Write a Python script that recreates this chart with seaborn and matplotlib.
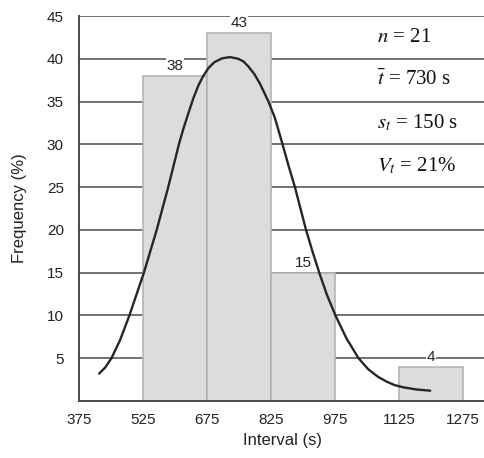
import numpy as np
import pandas as pd
import matplotlib
matplotlib.use("Agg")
import matplotlib.pyplot as plt
import seaborn as sns

# histogram classes (s) and frequencies (%)
bin_edges = [525, 675, 825, 975, 1125, 1275]
bin_centers = [600, 750, 900, 1200]
freq = [38, 43, 15, 4]

# fitted curve
curve_x = [422, 436, 451, 471, 493, 510, 527, 542, 557, 571, 584, 597, 609,
           620, 631, 643, 654, 665, 678, 692, 710, 729, 748, 760, 772, 786,
           799, 819, 834, 852, 866, 881, 894, 907, 922, 938, 956, 976, 1002,
           1030, 1053, 1075, 1096, 1115, 1135, 1165, 1198]
curve_y = [3.2, 3.9, 5.0, 7.1, 10.0, 12.5, 15.0, 17.5, 20.0, 22.6, 25.0,
           27.6, 30.0, 31.9, 33.6, 35.4, 36.8, 37.9, 38.9, 39.6, 40.05, 40.2,
           40.0, 39.7, 39.1, 38.2, 37.1, 35.0, 33.1, 30.0, 27.5, 25.0, 22.5,
           20.0, 17.5, 15.0, 12.4, 10.0, 7.3, 5.0, 3.7, 2.85, 2.26, 1.85,
           1.6, 1.35, 1.2]

x_ticks = [375, 525, 675, 825, 975, 1125, 1275]
y_ticks = [5, 10, 15, 20, 25, 30, 35, 40, 45]

stats = [r"$n$ = 21", r"$\bar{t}$ = 730 s", r"$s_t$ = 150 s", r"$V_t$ = 21%"]

sns.set_theme(style="white")
plt.rcParams["font.family"] = ["Liberation Sans", "DejaVu Sans"]
plt.rcParams["mathtext.fontset"] = "stix"

fig = plt.figure(figsize=(4.85, 4.58), dpi=100)
ax = fig.add_axes([0.163, 0.1245, 0.837, 0.8405])

# horizontal grid lines sit behind the bars
for yv in y_ticks:
    ax.axhline(yv, color="#4a4a4a", linewidth=1.1, zorder=0.5)

df = pd.DataFrame({"interval": bin_centers, "freq": freq})
sns.histplot(data=df, x="interval", weights="freq", bins=bin_edges,
             color="#dcdcdc", edgecolor="#b4b4b4", linewidth=1.2,
             alpha=1, ax=ax)
for p in ax.patches:
    p.set_zorder(2)

curve = pd.DataFrame({"x": curve_x, "y": curve_y})
sns.lineplot(data=curve, x="x", y="y", color="#262626", linewidth=1.7,
             ax=ax, zorder=4, sort=False)

for c, f in zip(bin_centers, freq):
    ax.annotate(str(f), (c, f), xytext=(0, 2), textcoords="offset points",
                ha="center", va="bottom", fontsize=11, color="#222222",
                bbox=dict(facecolor="white", edgecolor="none", pad=0.5),
                zorder=3)

for i, s in enumerate(stats):
    ax.text(1073, 42.5 - 5 * i, s, ha="left", va="center", fontsize=15,
            family=["Liberation Serif", "DejaVu Serif"], color="#111111",
            zorder=5)

ax.set_xlim(375, 1326.5)
ax.set_ylim(0, 45)
ax.set_xticks(x_ticks)
ax.set_yticks(y_ticks)
ax.grid(False)
ax.tick_params(axis="both", length=0, labelsize=11, colors="#222222")
ax.tick_params(axis="x", pad=9)
ax.tick_params(axis="y", pad=11)

for side in ["top", "right"]:
    ax.spines[side].set_visible(False)
for side in ["left", "bottom"]:
    ax.spines[side].set_color("#4a4a4a")
    ax.spines[side].set_linewidth(1.4)
    ax.spines[side].set_zorder(5)

ax.set_xlabel("Interval (s)", fontsize=12, labelpad=4, color="#222222")
ax.set_ylabel("Frequency (%)", fontsize=12, labelpad=14, color="#222222")

fig.savefig("out.png", dpi=100)
